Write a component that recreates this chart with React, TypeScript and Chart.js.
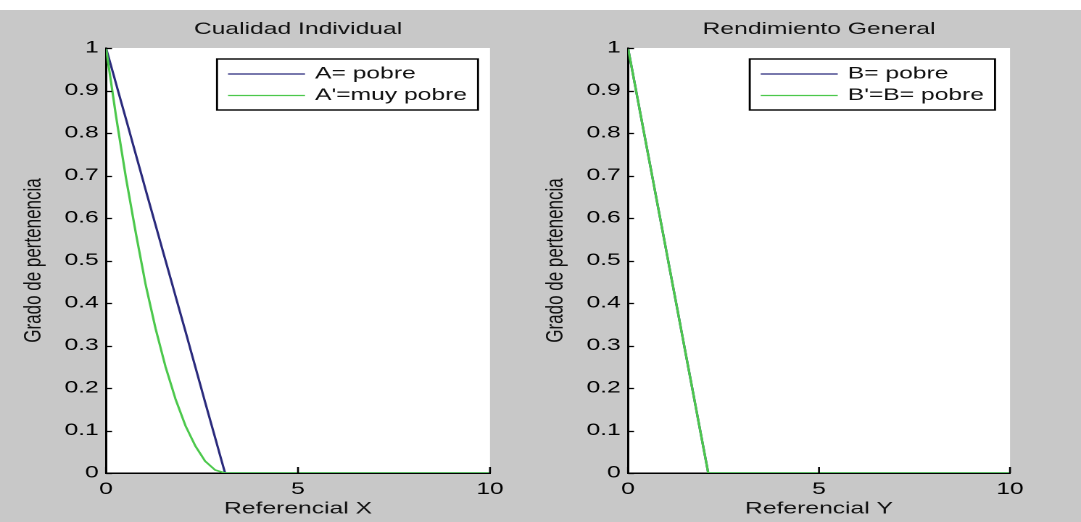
import React, { useEffect, useRef } from "react";
import { Chart, registerables } from "chart.js";

Chart.register(...registerables);

// ---------- data ----------
const xTickValues = [0, 5, 10];
const yTickStep = 0.1;

const leftTitle = "Cualidad Individual";
const rightTitle = "Rendimiento General";
const leftXLabel = "Referencial X";
const rightXLabel = "Referencial Y";
const yAxisLabel = "Grado de pertenencia";

const leftSeriesNames = ["A= pobre", "A'=muy pobre"];
const rightSeriesNames = ["B= pobre", "B'=B= pobre"];

const aPobreX = [0, 0.52, 1.03, 1.55, 2.07, 2.58, 3.1, 10];
const aPobreY = [1, 0.833, 0.667, 0.5, 0.333, 0.167, 0, 0];
const aMuyPobreX = [0, 0.26, 0.52, 0.78, 1.03, 1.29, 1.55, 1.81, 2.07, 2.33, 2.58, 2.84, 3.1, 10];
const aMuyPobreY = [1, 0.84, 0.694, 0.563, 0.444, 0.34, 0.25, 0.174, 0.111, 0.063, 0.028, 0.007, 0, 0];

const bPobreX = [0, 2.1, 10];
const bPobreY = [1, 0, 0];
const bPrimaX = [0, 2.1, 10];
const bPrimaY = [1, 0, 0];

// ---------- styling ----------
const BLUE = "#2a2a7c";
const GREEN = "#4cc84c";
const BG = "#c8c8c8";
const K = 1.45; // horizontal stretch of the picture
const LW = 372; // logical canvas width
const H = 522;
const FONT = '"Liberation Sans", Arial, Helvetica, sans-serif';

const toPts = (xs: number[], ys: number[]) => xs.map((x, i) => ({ x, y: ys[i] }));

const matlabPlugin = {
  id: "matlabLook",
  beforeDraw(chart: any) {
    const { ctx, chartArea: a } = chart;
    ctx.save();
    ctx.fillStyle = "#ffffff";
    ctx.fillRect(a.left, a.top, a.right - a.left, a.bottom - a.top);
    ctx.restore();
  },
  afterDatasetsDraw(chart: any) {
    const { ctx, chartArea: a } = chart;
    const xs = chart.scales.x;
    const ys = chart.scales.y;
    ctx.save();
    ctx.strokeStyle = "#000";
    ctx.lineWidth = 1.3;
    // inward ticks
    ys.ticks.forEach((t: any) => {
      const py = Math.round(ys.getPixelForValue(t.value)) + 0.5;
      ctx.beginPath();
      ctx.moveTo(a.left, py);
      ctx.lineTo(a.left + 6 / K, py);
      ctx.stroke();
    });
    xs.ticks.forEach((t: any) => {
      const px = xs.getPixelForValue(t.value);
      ctx.beginPath();
      ctx.moveTo(px, a.bottom);
      ctx.lineTo(px, a.bottom - 6);
      ctx.stroke();
    });

    // legend box
    const opts = chart.options.plugins.matlabLook || {};
    const names: string[] = chart.data.datasets.map((d: any) => d.label);
    const colors: string[] = chart.data.datasets.map((d: any) => d.borderColor);
    ctx.font = `17px ${FONT}`;
    const maxText = Math.max(...names.map((n) => ctx.measureText(n).width));
    const pad = 11 / K;
    const lineLen = 77 / K;
    const gap = 10 / K;
    const boxW = pad + lineLen + gap + maxText + pad;
    const right = a.right - (opts.legendGap ?? 12) / K;
    const left = right - boxW;
    const top = 59;
    const rowH = 21.5;
    const boxH = 51;
    ctx.fillStyle = "#ffffff";
    ctx.fillRect(left, top, boxW, boxH);
    ctx.strokeStyle = "#000";
    ctx.lineWidth = 1.4;
    ctx.strokeRect(left, top, boxW, boxH);
    names.forEach((n, i) => {
      const cy = top + 15 + i * rowH;
      ctx.strokeStyle = colors[i];
      ctx.lineWidth = 1.3;
      ctx.beginPath();
      ctx.moveTo(left + pad, cy);
      ctx.lineTo(left + pad + lineLen, cy);
      ctx.stroke();
      ctx.fillStyle = "#111";
      ctx.textAlign = "left";
      ctx.textBaseline = "middle";
      ctx.fillText(n, left + pad + lineLen + gap, cy);
    });
    ctx.restore();
  },
};

interface PanelProps {
  screenLeft: number;
  axisLeft: number; // relative screen px
  axisRight: number; // relative screen px
  title: string;
  xLabel: string;
  names: string[];
  series: { xs: number[]; ys: number[] }[];
  legendGap: number;
}

function Panel(p: PanelProps) {
  const ref = useRef<HTMLCanvasElement | null>(null);
  useEffect(() => {
    if (!ref.current) return;
    const plotLeft = p.axisLeft / K;
    const plotRight = p.axisRight / K;
    const chart = new Chart(ref.current, {
      type: "line",
      data: {
        datasets: p.series.map((s, i) => ({
          label: p.names[i],
          data: toPts(s.xs, s.ys),
          borderColor: i === 0 ? BLUE : GREEN,
          backgroundColor: i === 0 ? BLUE : GREEN,
          borderWidth: 1.6,
          pointRadius: 0,
          tension: 0,
          fill: false,
          order: i === 0 ? 1 : 0,
        })),
      },
      options: {
        responsive: false,
        animation: false,
        devicePixelRatio: 2,
        layout: { padding: { top: 10, left: 0, bottom: 0, right: LW - plotRight } },
        plugins: {
          legend: { display: false },
          tooltip: { enabled: false },
          title: {
            display: true,
            text: p.title,
            fullSize: false,
            color: "#111",
            font: { family: FONT, size: 17, weight: "normal" },
            padding: { top: 9, bottom: 8.6 },
          },
          // @ts-ignore
          matlabLook: { legendGap: p.legendGap },
        },
        scales: {
          x: {
            type: "linear",
            min: 0,
            max: 10,
            afterBuildTicks: (scale: any) => {
              scale.ticks = xTickValues.map((v) => ({ value: v }));
            },
            afterFit: (scale: any) => {
              scale.height = H - 473;
            },
            grid: { display: false, drawTicks: false },
            border: { display: true, color: "#000", width: 1.5 },
            ticks: {
              color: "#000",
              padding: 6,
              font: { family: FONT, size: 17 },
              maxRotation: 0,
            },
            title: {
              display: true,
              text: p.xLabel,
              color: "#111",
              font: { family: FONT, size: 17 },
              padding: { top: 0, bottom: 3 },
            },
          },
          y: {
            type: "linear",
            min: 0,
            max: 1,
            ticks: {
              stepSize: yTickStep,
              color: "#000",
              padding: 5,
              font: { family: FONT, size: 17 },
              callback: (v: any) => String(Math.round(Number(v) * 10) / 10),
            },
            afterFit: (scale: any) => {
              scale.width = plotLeft;
            },
            grid: { display: false, drawTicks: false },
            border: { display: true, color: "#000", width: 1.5 },
            title: {
              display: true,
              text: yAxisLabel,
              color: "#111",
              font: { family: FONT, size: 17 },
              padding: { top: 13, bottom: 0 },
            },
          },
        },
      },
      plugins: [matlabPlugin],
    } as any);
    return () => chart.destroy();
  }, []);
  return (
    <div
      style={{
        position: "absolute",
        left: p.screenLeft,
        top: 0,
        width: LW,
        height: H,
        transform: `scaleX(${K})`,
        transformOrigin: "0 0",
      }}
    >
      <canvas ref={ref} width={LW} height={H} style={{ display: "block" }} />
    </div>
  );
}

export default function App() {
  return (
    <div
      style={{
        position: "fixed",
        left: 0,
        top: 0,
        width: 1081,
        height: 522,
        background: BG,
        overflow: "hidden",
      }}
    >
      <div style={{ position: "absolute", left: 0, top: 0, width: 1081, height: 10, background: "#fff" }} />
      <Panel
        screenLeft={0}
        axisLeft={106}
        axisRight={490}
        title={leftTitle}
        xLabel={leftXLabel}
        names={leftSeriesNames}
        series={[
          { xs: aPobreX, ys: aPobreY },
          { xs: aMuyPobreX, ys: aMuyPobreY },
        ]}
        legendGap={12}
      />
      <Panel
        screenLeft={522}
        axisLeft={106}
        axisRight={488}
        title={rightTitle}
        xLabel={rightXLabel}
        names={rightSeriesNames}
        series={[
          { xs: bPobreX, ys: bPobreY },
          { xs: bPrimaX, ys: bPrimaY },
        ]}
        legendGap={15}
      />
    </div>
  );
}
